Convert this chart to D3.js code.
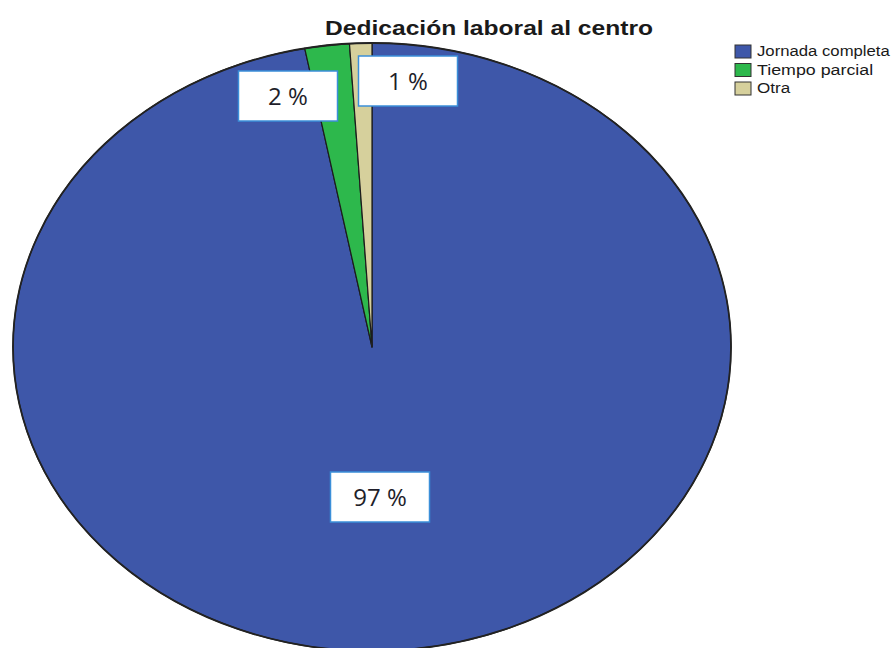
<!DOCTYPE html>
<html>
<head>
<meta charset="utf-8">
<script src="https://cdn.jsdelivr.net/npm/d3@7/dist/d3.min.js"></script>
<style>
  html, body { margin: 0; padding: 0; background: #ffffff; }
  svg { display: block; }
</style>
</head>
<body>
<svg id="chart" width="891" height="648"></svg>
<script>
// ---- Data ----
const categories = ["Jornada completa", "Tiempo parcial", "Otra"];
const values = [97, 2, 1];
const labels = ["97 %", "2 %", "1 %"];
const title = "Dedicación laboral al centro";

// ---- Styling / layout ----
const colors = ["#3e57a9", "#2db84c", "#d6d09c"];
const W = 891, H = 648;
const cx = 372, cy = 347, rx = 359, ry = 304;
// label box centres (layout, relative to the pie centre, in pixels)
const labelBoxes = [
  { dx: 8, dy: 150 },
  { dx: -84, dy: -251 },
  { dx: 36, dy: -266 }
];
const boxW = 99, boxH = 50;

const svg = d3.select("#chart");

// Title
svg.append("text")
  .attr("x", 489).attr("y", 35)
  .attr("text-anchor", "middle")
  .attr("font-family", "Liberation Sans, Arial, sans-serif")
  .attr("font-weight", "bold")
  .attr("font-size", 21)
  .attr("fill", "#1a1a1a")
  .attr("textLength", 328)
  .attr("lengthAdjust", "spacingAndGlyphs")
  .text(title);

// Pie
const pie = d3.pie().sort(null).value(d => d)(values);
const arc = d3.arc().innerRadius(0).outerRadius(rx);

const g = svg.append("g")
  .attr("transform", `translate(${cx},${cy}) scale(1,${ry / rx})`);

g.selectAll("path.slice")
  .data(pie)
  .join("path")
  .attr("class", "slice")
  .attr("d", arc)
  .attr("fill", (d, i) => colors[i])
  .attr("stroke", "#1c1c1c")
  .attr("stroke-width", 1.2)
  .attr("vector-effect", "non-scaling-stroke")
  .attr("stroke-linejoin", "round");

// outer rim
g.append("ellipse")
  .attr("cx", 0).attr("cy", 0)
  .attr("rx", rx).attr("ry", rx)
  .attr("fill", "none")
  .attr("stroke", "#222")
  .attr("stroke-width", 1.8)
  .attr("vector-effect", "non-scaling-stroke");

// Labels
const lg = svg.append("g");
labels.forEach((t, i) => {
  const bx = cx + labelBoxes[i].dx, by = cy + labelBoxes[i].dy;
  lg.append("rect")
    .attr("x", bx - boxW / 2).attr("y", by - boxH / 2)
    .attr("width", boxW).attr("height", boxH)
    .attr("fill", "#ffffff")
    .attr("stroke", "#3b8fd9")
    .attr("stroke-width", 1.5);
  lg.append("text")
    .attr("x", bx).attr("y", by)
    .attr("dy", "0.36em")
    .attr("text-anchor", "middle")
    .attr("font-family", "Open Sans, sans-serif")
    .attr("font-size", 24)
    .attr("fill", "#1e1e2a")
    .text(t);
});

// Legend
const legX = 735, legY = 45, legStep = 18.5;
const leg = svg.append("g");
categories.forEach((c, i) => {
  const y = legY + i * legStep;
  leg.append("rect")
    .attr("x", legX).attr("y", y)
    .attr("width", 16).attr("height", 13)
    .attr("fill", colors[i])
    .attr("stroke", "#333")
    .attr("stroke-width", 1);
  leg.append("text")
    .attr("x", 757).attr("y", y + 11)
    .attr("font-family", "Liberation Sans, Arial, sans-serif")
    .attr("font-size", 14)
    .attr("fill", "#1a1a1a")
    .attr("textLength", c.length * 8.3)
    .attr("lengthAdjust", "spacingAndGlyphs")
    .text(c);
});
</script>
</body>
</html>
